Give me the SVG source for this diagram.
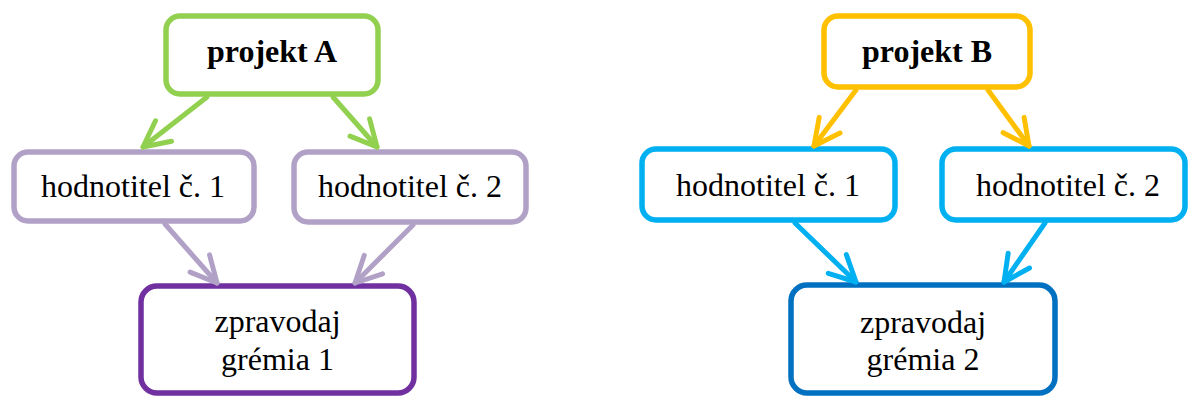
<svg xmlns="http://www.w3.org/2000/svg" width="1190" height="397" viewBox="0 0 1190 397">
<style>
.box{fill:#fff;stroke-width:5.5}
text{font-family:'Liberation Serif','Times New Roman',serif;font-size:32px;fill:#000;text-anchor:middle}
.b{font-weight:bold}
.c{fill:none;stroke-width:5;stroke-linecap:round}
.ah{fill:none;stroke-width:5;stroke-linecap:round;stroke-linejoin:round}
</style>
<defs>
<marker id="mg" markerUnits="userSpaceOnUse" viewBox="-32 -18 38 36" refX="0" refY="0" markerWidth="38" markerHeight="36" orient="auto" overflow="visible"><path class="ah" stroke="#92D050" d="M-26,-13 L0,0 L-26,13"/></marker>
<marker id="mp" markerUnits="userSpaceOnUse" viewBox="-32 -18 38 36" refX="0" refY="0" markerWidth="38" markerHeight="36" orient="auto" overflow="visible"><path class="ah" stroke="#B2A1C7" d="M-26,-13 L0,0 L-26,13"/></marker>
<marker id="my" markerUnits="userSpaceOnUse" viewBox="-32 -18 38 36" refX="0" refY="0" markerWidth="38" markerHeight="36" orient="auto" overflow="visible"><path class="ah" stroke="#FFC000" d="M-26,-13 L0,0 L-26,13"/></marker>
<marker id="mb" markerUnits="userSpaceOnUse" viewBox="-32 -18 38 36" refX="0" refY="0" markerWidth="38" markerHeight="36" orient="auto" overflow="visible"><path class="ah" stroke="#00B0F0" d="M-26,-13 L0,0 L-26,13"/></marker>
</defs>
<rect width="1190" height="397" fill="#fff"/>
<g id="projektA"><rect class="box" x="166" y="16" width="212" height="78" rx="14" stroke="#92D050"/><text class="b" x="272" y="62">projekt A</text></g>
<g id="hodnotitelA1"><rect class="box" x="14" y="152" width="240" height="69" rx="14" stroke="#B2A1C7"/><text x="133" y="197">hodnotitel č. 1</text></g>
<g id="hodnotitelA2"><rect class="box" x="294" y="152" width="232" height="70" rx="14" stroke="#B2A1C7"/><text x="410" y="197">hodnotitel č. 2</text></g>
<g id="zpravodaj1"><rect class="box" x="141" y="286" width="273" height="107" rx="16" stroke="#7030A0"/><text x="277.5" y="332">zpravodaj</text><text x="277.5" y="370">grémia 1</text></g>
<g id="projektB"><rect class="box" x="824" y="16" width="206" height="71" rx="14" stroke="#FFC000"/><text class="b" x="927" y="62">projekt B</text></g>
<g id="hodnotitelB1"><rect class="box" x="642" y="149" width="253" height="71" rx="14" stroke="#00B0F0"/><text x="768" y="196">hodnotitel č. 1</text></g>
<g id="hodnotitelB2"><rect class="box" x="942" y="149" width="243" height="71" rx="14" stroke="#00B0F0"/><text x="1068" y="196">hodnotitel č. 2</text></g>
<g id="zpravodaj2"><rect class="box" x="791" y="285" width="264" height="108" rx="16" stroke="#0070C0"/><text x="923" y="333">zpravodaj</text><text x="923" y="370">grémia 2</text></g>
<g id="connectors">
<line class="c" stroke="#92D050" x1="207" y1="97" x2="143" y2="147" marker-end="url(#mg)"/>
<line class="c" stroke="#92D050" x1="333" y1="97" x2="377" y2="147" marker-end="url(#mg)"/>
<line class="c" stroke="#B2A1C7" x1="165" y1="224" x2="217" y2="283" marker-end="url(#mp)"/>
<line class="c" stroke="#B2A1C7" x1="413" y1="225" x2="355" y2="283" marker-end="url(#mp)"/>
<line class="c" stroke="#FFC000" x1="856" y1="90" x2="814" y2="146" marker-end="url(#my)"/>
<line class="c" stroke="#FFC000" x1="988" y1="90" x2="1029" y2="146" marker-end="url(#my)"/>
<line class="c" stroke="#00B0F0" x1="795" y1="223" x2="856" y2="282" marker-end="url(#mb)"/>
<line class="c" stroke="#00B0F0" x1="1045" y1="223" x2="1004" y2="282" marker-end="url(#mb)"/>
</g>
</svg>
